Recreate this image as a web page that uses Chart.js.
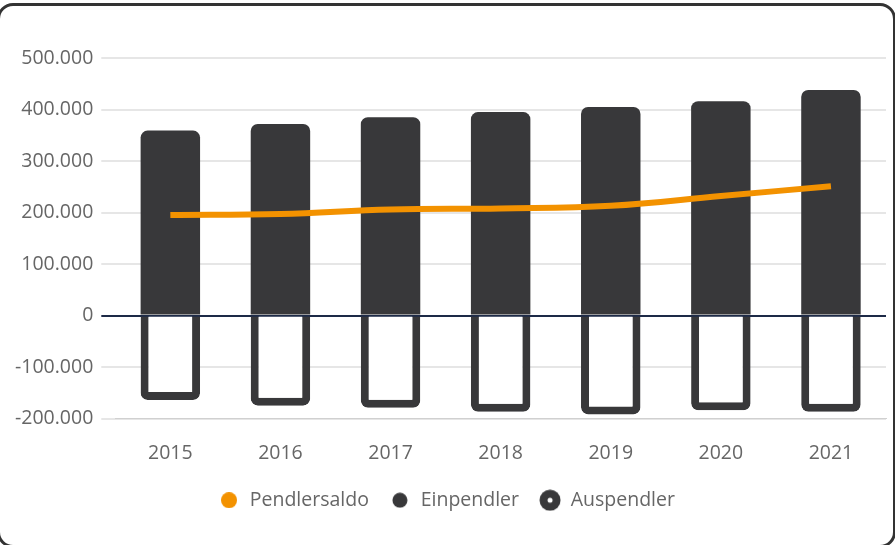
<!DOCTYPE html>
<html>
<head>
<meta charset="utf-8">
<script src="https://cdn.jsdelivr.net/npm/chart.js@4"></script>
<style>
    html, body { margin: 0; padding: 0; background: #fff; overflow: hidden; }
    .card {
        position: absolute; left: -3px; top: 3px; width: 899px; height: 545px;
        box-sizing: border-box; border: 3px solid #333; border-radius: 16px; background: #fff;
    }
    #wrap { position: absolute; left: 0; top: 0; width: 895px; height: 545px; }
</style>
</head>
<body>
<div class="card"></div>
<div id="wrap"><canvas id="pendlerChart"></canvas></div>
<script>
// ===== DATA =====
const years = ["2015", "2016", "2017", "2018", "2019", "2020", "2021"];
const einpendler = [359000, 372000, 385000, 395000, 405000, 416000, 438000];
const auspendler = [-164000, -175000, -179000, -187000, -192000, -184000, -187000];
const pendlersaldo = [195000, 197000, 206000, 208000, 213000, 232000, 251000];
const yTicks = [-200000, -100000, 0, 100000, 200000, 300000, 400000, 500000];

const DARK = "#38383a";
const ORANGE = "#f39200";
const FONT = "'Open Sans', sans-serif";

// German number format: 100000 -> 100.000
function formatDe(v) {
    const s = String(Math.abs(v)).replace(/\B(?=(\d{3})+(?!\d))/g, ".");
    return (v < 0 ? "-" : "") + s;
}

// ===== LEGEND ICONS =====
function makeIcon(size, outer, inner, color) {
    const c = document.createElement("canvas");
    c.width = size; c.height = size;
    const g = c.getContext("2d");
    g.fillStyle = color;
    g.beginPath(); g.arc(size / 2, size / 2, outer, 0, Math.PI * 2); g.fill();
    if (inner > 0) {
        g.fillStyle = "#fff";
        g.beginPath(); g.arc(size / 2, size / 2, inner, 0, Math.PI * 2); g.fill();
    }
    return c;
}
const icons = [
    makeIcon(16, 8, 0, ORANGE),
    makeIcon(16, 7.5, 0, DARK),
    makeIcon(22, 10.5, 2.5, DARK)
];

const ctx = document.getElementById("pendlerChart").getContext("2d");

new Chart(ctx, {
    data: {
        labels: years,
        datasets: [
            {
                type: "line",
                label: "Pendlersaldo",
                data: pendlersaldo,
                borderColor: ORANGE,
                backgroundColor: ORANGE,
                borderWidth: 6,
                tension: 0.4,
                pointRadius: 0,
                pointHoverRadius: 0,
                order: 0
            },
            {
                type: "bar",
                label: "Einpendler",
                data: einpendler,
                backgroundColor: DARK,
                borderWidth: 0,
                borderRadius: { topLeft: 7, topRight: 7 },
                barPercentage: 0.6,
                categoryPercentage: 0.9,
                order: 1
            },
            {
                type: "bar",
                label: "Auspendler",
                data: auspendler,
                backgroundColor: "#fff",
                borderColor: DARK,
                borderWidth: 8,
                borderRadius: { bottomLeft: 7, bottomRight: 7 },
                barPercentage: 0.6,
                categoryPercentage: 0.9,
                order: 1
            }
        ]
    },
    options: {
        responsive: true,
        maintainAspectRatio: false,
        animation: false,
        layout: { padding: { top: 58, left: 7, right: 9, bottom: 25 } },
        plugins: {
            tooltip: { enabled: false },
            legend: {
                position: "bottom",
                labels: {
                    usePointStyle: true,
                    pointStyleWidth: 22,
                    boxHeight: 16,
                    padding: 20,
                    color: "#666",
                    font: { family: FONT, size: 19.5 },
                    generateLabels(chart) {
                        const items = Chart.defaults.plugins.legend.labels.generateLabels(chart);
                        items.forEach((it, i) => { it.pointStyle = icons[i]; });
                        return items;
                    }
                }
            }
        },
        scales: {
            x: {
                stacked: true,
                afterFit: (scale) => { scale.height = 52; },
                grid: { display: false, drawTicks: false },
                border: { display: true, color: "#d0d0d0", width: 1 },
                ticks: { color: "#666", padding: 23, font: { family: FONT, size: 19.5 } }
            },
            y: {
                min: -200000,
                max: 500000,
                afterBuildTicks: (axis) => { axis.ticks = yTicks.map(v => ({ value: v })); },
                border: { display: false },
                grid: {
                    tickLength: 14,
                    lineWidth: 2,
                    color: (c) => c.tick && c.tick.value === 0 ? "#1d2a47" : "#e6e6e6"
                },
                ticks: {
                    color: "#666",
                    padding: 8,
                    font: { family: FONT, size: 19.5 },
                    callback: (v) => formatDe(v)
                }
            }
        }
    }
});
</script>
</body>
</html>
